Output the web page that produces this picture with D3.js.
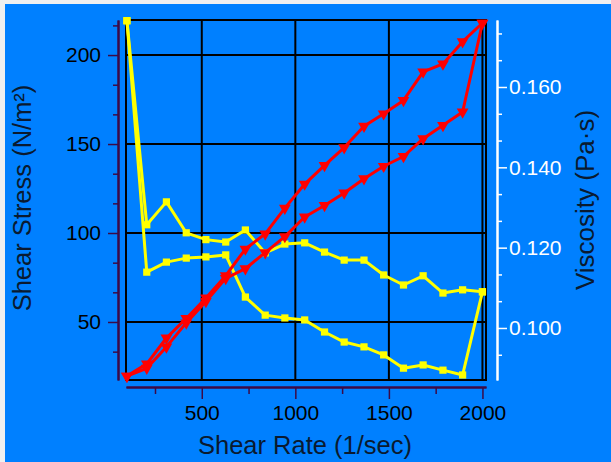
<!DOCTYPE html>
<html>
<head>
<meta charset="utf-8">
<script src="https://cdn.jsdelivr.net/npm/d3@7"></script>
<style>
  html, body { margin: 0; padding: 0; background: #f0f0f0; }
  svg { display: block; }
  text { font-family: "Liberation Sans", Arial, sans-serif; }
</style>
</head>
<body>
<svg id="chart" width="611" height="462"></svg>
<script>
// ---- data ----
const shearRate   = [100, 206, 311, 417, 522, 628, 733, 839, 944, 1050, 1156, 1261, 1367, 1472, 1578, 1683, 1789, 1894, 2000];
const stressUp    = [19.6, 26.5, 41, 52, 63.5, 76, 91, 99.5, 114, 127.5, 138, 148, 160, 167, 174.5, 190.5, 195, 207.5, 218];
const stressDown  = [19.6, 24, 36, 49.5, 61.5, 74.5, 80, 89, 98, 109, 115.5, 122.5, 130.5, 137.5, 143, 153, 160.5, 168, 218];
const viscUp      = [0.1765, 0.1257, 0.1314, 0.1237, 0.1220, 0.1214, 0.1244, 0.1187, 0.1209, 0.1212, 0.1189, 0.1169, 0.1169, 0.1132, 0.1107, 0.1130, 0.1087, 0.1095, 0.1090];
const viscDown    = [0.1765, 0.1139, 0.1164, 0.1174, 0.1177, 0.1182, 0.1077, 0.1032, 0.1025, 0.1020, 0.0990, 0.0965, 0.0953, 0.0933, 0.0900, 0.0908, 0.0895, 0.0883, 0.1090];

const xTicks      = [500, 1000, 1500, 2000];
const xMinorTicks = [250, 750, 1250, 1750];
const yTicks      = [50, 100, 150, 200];
const yMinorTicks = [33.33, 66.67, 83.33, 116.67, 133.33, 166.67, 183.33, 216.67];
const y2Ticks     = [0.100, 0.120, 0.140, 0.160];
const y2MinorTicks= [0.09333, 0.10667, 0.11333, 0.12667, 0.13333, 0.14667, 0.15333, 0.16667, 0.17333];

const xTitle  = "Shear Rate (1/sec)";
const yTitle  = "Shear Stress (N/m²)";
const y2Title = "Viscosity (Pa·s)";

// ---- layout ----
const svg = d3.select("#chart");
const plot = { left: 126, right: 486, top: 20, bottom: 380 };

svg.append("rect").attr("x", 5).attr("y", 4).attr("width", 606).attr("height", 458).attr("fill", "#0080ff");

const x  = d3.scaleLinear().domain([95, 2019]).range([plot.left, plot.right]);
const y  = d3.scaleLinear().domain([17.4, 219.7]).range([plot.bottom, plot.top]);
const y2 = d3.scaleLinear().domain([0.08705, 0.17668]).range([plot.bottom, plot.top]);

// grid
const grid = svg.append("g");
grid.selectAll("line.v").data(xTicks).join("line")
  .attr("x1", d => x(d)).attr("x2", d => x(d))
  .attr("y1", plot.top).attr("y2", plot.bottom)
  .attr("stroke", "#000").attr("stroke-width", 2);
grid.selectAll("line.h").data(yTicks).join("line")
  .attr("y1", d => y(d)).attr("y2", d => y(d))
  .attr("x1", plot.left).attr("x2", plot.right)
  .attr("stroke", "#000").attr("stroke-width", 2);

// frame
svg.append("rect").attr("x", plot.left).attr("y", plot.top)
  .attr("width", plot.right - plot.left).attr("height", plot.bottom - plot.top)
  .attr("fill", "none").attr("stroke", "#000").attr("stroke-width", 2);

// axes
const purple = "#3c0a46";
const fs = "21px";

function styleAxis(g, color, textColor) {
  g.select(".domain").attr("stroke", color).attr("stroke-width", 2);
  g.selectAll(".tick line").attr("stroke", color).attr("stroke-width", 1.5);
  g.selectAll(".tick text").attr("fill", textColor).style("font-size", fs)
    .style("font-family", '"Liberation Sans", Arial, sans-serif');
}

// left axis
const yAx = svg.append("g").attr("transform", "translate(118,0)")
  .call(d3.axisLeft(y).tickValues(yTicks).tickSize(10).tickSizeOuter(0).tickPadding(7).tickFormat(d3.format("d")));
styleAxis(yAx, purple, "#000");
const yAxMinor = svg.append("g").attr("transform", "translate(118,0)")
  .call(d3.axisLeft(y).tickValues(yMinorTicks.filter(v => v > 17.4 && v < 219.7)).tickSize(5).tickSizeOuter(0).tickFormat(""));
styleAxis(yAxMinor, purple, "#000");

// bottom axis
const xAx = svg.append("g").attr("transform", "translate(0,387)")
  .call(d3.axisBottom(x).tickValues(xTicks).tickSize(12).tickSizeOuter(0).tickPadding(6).tickFormat(d3.format("d")));
styleAxis(xAx, purple, "#000");
const xAxMinor = svg.append("g").attr("transform", "translate(0,387)")
  .call(d3.axisBottom(x).tickValues(xMinorTicks).tickSize(7).tickSizeOuter(0).tickFormat(""));
styleAxis(xAxMinor, purple, "#000");

// right axis
const y2Ax = svg.append("g").attr("transform", "translate(497,0)")
  .call(d3.axisRight(y2).tickValues(y2Ticks).tickSize(10).tickSizeOuter(0).tickPadding(2).tickFormat(d3.format(".3f")));
styleAxis(y2Ax, "#fff", "#fff");
const y2AxMinor = svg.append("g").attr("transform", "translate(497,0)")
  .call(d3.axisRight(y2).tickValues(y2MinorTicks).tickSize(5).tickSizeOuter(0).tickFormat(""));
styleAxis(y2AxMinor, "#fff", "#fff");

// titles
svg.append("text").attr("x", 305).attr("y", 454).attr("text-anchor", "middle")
  .style("font-size", "25.5px").attr("fill", "#0a1a30").text(xTitle);
svg.append("text").attr("transform", "translate(31,198) rotate(-90)").attr("text-anchor", "middle")
  .style("font-size", "25.5px").attr("fill", "#0a1a30").text(yTitle);
svg.append("text").attr("transform", "translate(594,200) rotate(-90)").attr("text-anchor", "middle")
  .style("font-size", "26px").attr("fill", "#0a1a30").text(y2Title);

// series
const idx = d3.range(shearRate.length);
function drawSeries(vals, scale, color, symbol, size, rot) {
  const line = d3.line().x(i => x(shearRate[i])).y(i => scale(vals[i]));
  svg.append("path").datum(idx).attr("d", line)
    .attr("fill", "none").attr("stroke", color).attr("stroke-width", 3).attr("stroke-linejoin", "round");
  svg.append("g").selectAll("path").data(idx).join("path")
    .attr("d", d3.symbol().type(symbol).size(size))
    .attr("transform", i => `translate(${x(shearRate[i])},${scale(vals[i])}) rotate(${rot})`)
    .attr("fill", color);
}
drawSeries(viscDown, y2, "#ffff00", d3.symbolSquare, 52, 0);
drawSeries(viscUp, y2, "#ffff00", d3.symbolSquare, 52, 0);
drawSeries(stressDown, y, "#ff0000", d3.symbolTriangle, 60, 180);
drawSeries(stressUp, y, "#ff0000", d3.symbolTriangle, 60, 180);
</script>
</body>
</html>
